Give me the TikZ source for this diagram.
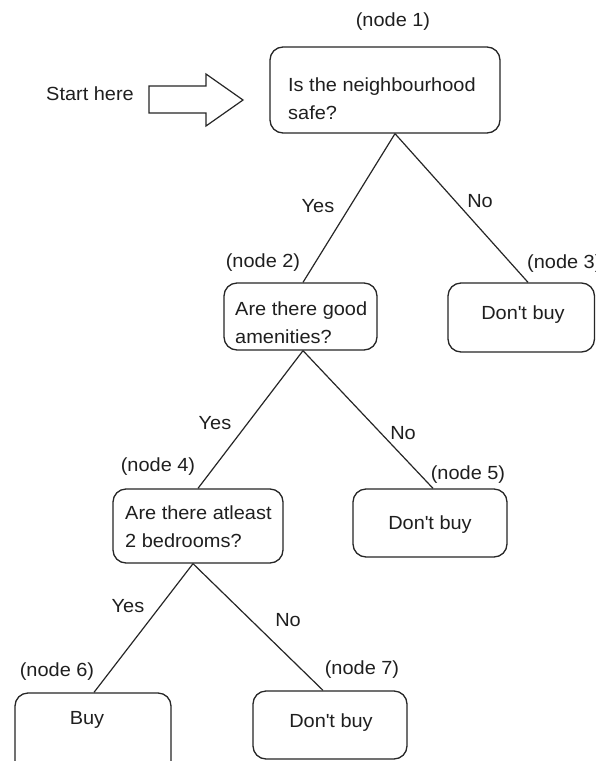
\documentclass[tikz,border=0pt]{standalone}
\usepackage{fontspec}
\setmainfont{Liberation Sans}[FakeStretch=1.05]
\newcommand{\apos}{\textquotesingle}
\begin{document}
\begin{tikzpicture}[x=1pt,y=-1pt,
  every node/.style={font=\fontsize{19}{27.5}\selectfont, text=black!88, inner sep=0pt},
  box/.style={draw=black!85, line width=1.3pt, rounded corners=13pt, fill=none},
  branch/.style={draw=black!85, line width=1.2pt},
  qtext/.style={anchor=west, align=left},
  tag/.style={anchor=center}]
\useasboundingbox (0,0) rectangle (596,761);
\fill[white] (0,0) rectangle (596,761);

% decision boxes and leaves
\node[box, minimum width=230pt, minimum height=86pt] (n1) at (385,90) {};
\node[box, minimum width=153pt, minimum height=67pt] (n2) at (300.5,316.5) {};
\node[box, minimum width=146.5pt, minimum height=69pt] (n3) at (521.25,317.5) {};
\node[box, minimum width=170pt, minimum height=74pt] (n4) at (198,526) {};
\node[box, minimum width=154pt, minimum height=68pt] (n5) at (430,523) {};
\node[box, minimum width=156pt, minimum height=82pt] (n6) at (93,734) {};
\node[box, minimum width=154pt, minimum height=68pt] (n7) at (330,725) {};

% box contents
\node[qtext] (t1) at (288,98.5) {Is the neighbourhood\\safe?};
\node[qtext] (t2) at (235,322.5) {Are there good\\amenities?};
\node[qtext] (t4) at (125,526.5) {Are there atleast\\2 bedrooms?};
\node (t3) at (523,315) {Don\apos t buy};
\node (t5) at (430,525) {Don\apos t buy};
\node (t6) at (87,720) {Buy};
\node (t7) at (331,723) {Don\apos t buy};

% node tags
\node[tag] (g1) at (393,22) {(node 1)};
\node[tag] (g2) at (263,263) {(node 2)};
\node[anchor=west] (g3) at (527,264) {(node 3)};
\node[tag] (g4) at (158,467) {(node 4)};
\node[tag] (g5) at (468,475) {(node 5)};
\node[tag] (g6) at (57,672) {(node 6)};
\node[tag] (g7) at (362,670) {(node 7)};

% start marker
\node (start) at (90,94) {Start here};
\draw[line width=1.2pt, draw=black!85, line join=miter]
  (149,86) -- (206,86) -- (206,74) -- (243,100) -- (206,126) -- (206,113) -- (149,113) -- cycle;

% branches
\draw[branch] ([xshift=10pt]n1.south) -- ([xshift=2.5pt]n2.north);
\draw[branch] ([xshift=10pt]n1.south) -- ([xshift=6.75pt]n3.north);
\draw[branch] ([xshift=2.5pt]n2.south) -- (n4.north);
\draw[branch] ([xshift=2.5pt]n2.south) -- ([xshift=3pt]n5.north);
\draw[branch] ([xshift=-5pt]n4.south) -- ([xshift=1pt]n6.north);
\draw[branch] ([xshift=-5pt]n4.south) -- ([xshift=-7pt]n7.north);

% branch labels
\node (y1) at (318,206) {Yes};
\node (o1) at (480,201) {No};
\node (y2) at (215,423) {Yes};
\node (o2) at (403,433) {No};
\node (y3) at (128,606) {Yes};
\node (o3) at (288,620) {No};
\end{tikzpicture}
\end{document}
